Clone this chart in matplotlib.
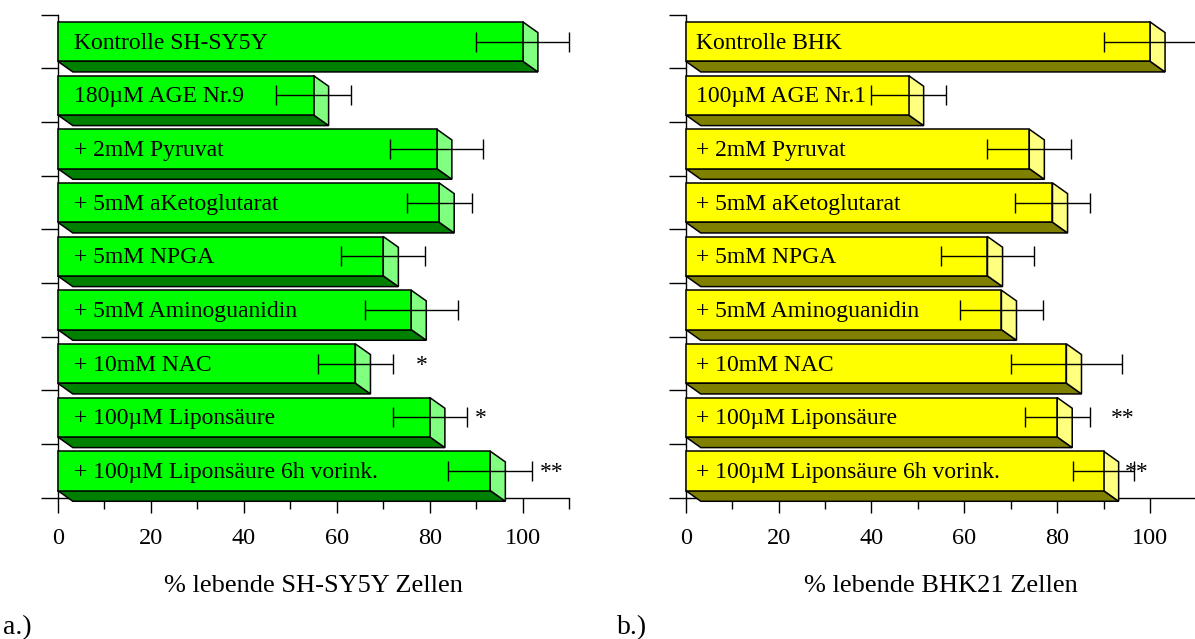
import matplotlib
matplotlib.use("Agg")
import matplotlib.pyplot as plt
from matplotlib.patches import Polygon, Rectangle
from matplotlib.transforms import blended_transform_factory

plt.rcParams['font.family'] = ['Liberation Serif', 'DejaVu Serif']

# ---- data -------------------------------------------------------------
labels_a = ["Kontrolle SH-SY5Y", "180µM AGE Nr.9", "+ 2mM Pyruvat",
            "+ 5mM aKetoglutarat", "+ 5mM NPGA", "+ 5mM Aminoguanidin",
            "+ 10mM NAC", "+ 100µM Liponsäure", "+ 100µM Liponsäure 6h vorink."]
values_a = [100, 55, 81.5, 82, 70, 76, 64, 80, 93]
errors_a = [10, 8, 10, 7, 9, 10, 8, 8, 9]
signif_a = ["", "", "", "", "", "", "*", "*", "**"]

labels_b = ["Kontrolle BHK", "100µM AGE Nr.1", "+ 2mM Pyruvat",
            "+ 5mM aKetoglutarat", "+ 5mM NPGA", "+ 5mM Aminoguanidin",
            "+ 10mM NAC", "+ 100µM Liponsäure", "+ 100µM Liponsäure 6h vorink."]
values_b = [100, 48, 74, 79, 65, 68, 82, 80, 90]
errors_b = [10, 8, 9, 8, 10, 9, 12, 7, 6.5]
signif_b = ["", "", "", "", "", "", "", "**", "**"]

xlabel_a = "% lebende SH-SY5Y Zellen"
xlabel_b = "% lebende BHK21 Zellen"

# ---- layout -----------------------------------------------------------
W, H = 1195, 639
fig = plt.figure(figsize=(W / 100, H / 100), dpi=100)

def px_rect(x0, x1, y0, y1):
    return [x0 / W, 1 - y1 / H, (x1 - x0) / W, (y1 - y0) / H]

ax_a = fig.add_axes(px_rect(57.7, 569.3, 14.7, 497.7))
ax_b = fig.add_axes(px_rect(685.7, 1196.4, 14.7, 497.7))

# where the significance marks sit along x (data units)
star_pos_a = [0, 0, 0, 0, 0, 0, 78.2, 91, 106.2]
star_pos_b = [0, 0, 0, 0, 0, 0, 0, 94.2, 97.2]


def draw_panel(ax, labels, values, errors, signif, star_pos,
               front, side, bottom, text_x, xlabel):
    h = 0.733      # height of the front face (rows)
    dx = 3.25      # extrusion to the right (data units)
    dy = 0.2       # extrusion downwards (rows)
    lw = 1.1
    for i, (lab, v, e, s, sx) in enumerate(zip(labels, values, errors, signif, star_pos)):
        c = i + 0.5
        yt, yb = c - h / 2, c + h / 2
        ax.add_patch(Polygon([(0, yb), (v, yb), (v + dx, yb + dy), (dx, yb + dy)],
                             closed=True, facecolor=bottom, edgecolor='black',
                             linewidth=lw, clip_on=False, zorder=2))
        ax.add_patch(Polygon([(v, yt), (v + dx, yt + dy), (v + dx, yb + dy), (v, yb)],
                             closed=True, facecolor=side, edgecolor='black',
                             linewidth=lw, clip_on=False, zorder=2))
        ax.add_patch(Rectangle((0, yt), v, h, facecolor=front, edgecolor='black',
                               linewidth=lw, clip_on=False, zorder=3))
        ax.errorbar(v, c, xerr=e, fmt='none', ecolor='black', elinewidth=1.0,
                    capsize=7.4, capthick=1.0, zorder=5, clip_on=False)
        ax.text(text_x, c + 0.13, lab, fontsize=17, va='baseline', ha='left', zorder=6)
        if s:
            ax.text(sx, c + 0.13, s, fontsize=17, va='baseline', ha='center', zorder=6)

    ax.set_xlim(0, 110)
    ax.set_ylim(9, 0)
    for sp in ('top', 'right'):
        ax.spines[sp].set_visible(False)
    for sp in ('left', 'bottom'):
        ax.spines[sp].set_linewidth(1.0)
        ax.spines[sp].set_zorder(1)
    ax.set_yticks(range(10))
    ax.set_yticklabels([])
    ax.tick_params(axis='y', length=12.2, width=1.0, direction='out')
    ax.set_xticks([0, 20, 40, 60, 80, 100])
    ax.set_xticks([10, 30, 50, 70, 90, 110], minor=True)
    ax.tick_params(axis='x', which='major', length=10.8, width=1.0, direction='out',
                   labelsize=17.5, pad=11)
    ax.tick_params(axis='x', which='minor', length=7.9, width=1.0, direction='out')
    ax.patch.set_visible(False)
    tr = blended_transform_factory(ax.transAxes, fig.transFigure)
    ax.text(0.5, 1 - 592 / H, xlabel, transform=tr, ha='center', va='baseline',
            fontsize=19)


draw_panel(ax_a, labels_a, values_a, errors_a, signif_a, star_pos_a,
           '#00ff00', '#80ff80', '#008000', 3.5, xlabel_a)
draw_panel(ax_b, labels_b, values_b, errors_b, signif_b, star_pos_b,
           '#ffff00', '#ffff80', '#808000', 2.2, xlabel_b)

fig.text(3 / W, 1 - 634 / H, "a.)", fontsize=20, ha='left', va='baseline')
fig.text(617 / W, 1 - 634 / H, "b.)", fontsize=20, ha='left', va='baseline')

fig.savefig("out.png", dpi=100)
